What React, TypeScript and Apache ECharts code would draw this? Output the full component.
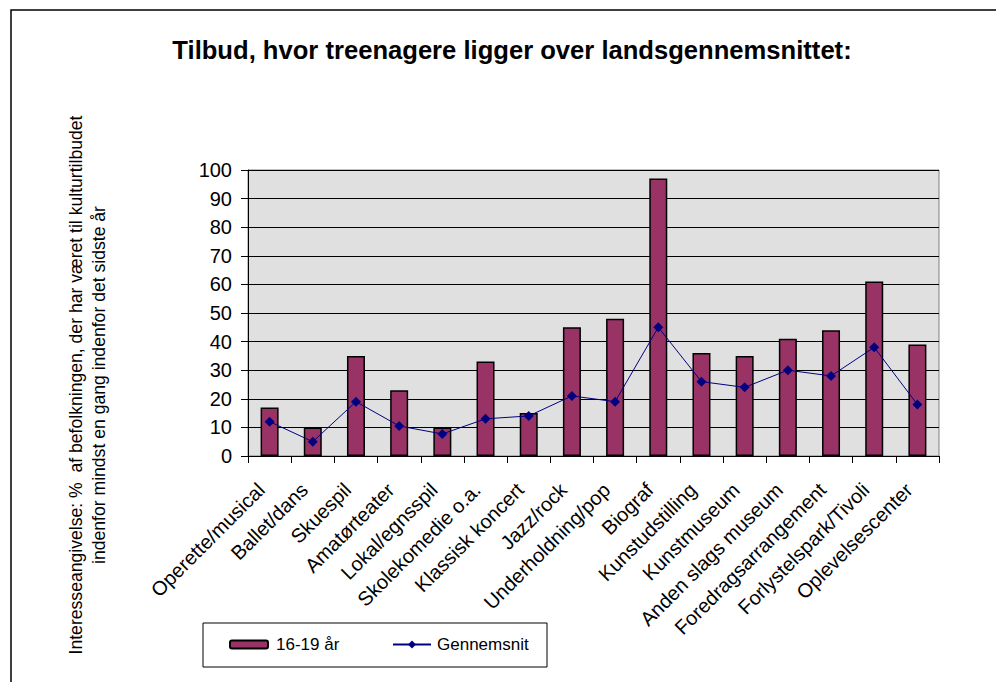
import React, { useEffect, useRef } from "react";
import * as echarts from "echarts";

const categories = [
  "Operette/musical",
  "Ballet/dans",
  "Skuespil",
  "Amatørteater",
  "Lokal/egnsspil",
  "Skolekomedie o.a.",
  "Klassisk koncert",
  "Jazz/rock",
  "Underholdning/pop",
  "Biograf",
  "Kunstudstilling",
  "Kunstmuseum",
  "Anden slags museum",
  "Foredragsarrangement",
  "Forlystelspark/Tivoli",
  "Oplevelsescenter",
];
const teens = [17, 10, 35, 23, 10, 33, 15, 45, 48, 97, 36, 35, 41, 44, 61, 39];
const average = [12, 5, 19, 10.5, 7.7, 13, 14, 21, 19, 45, 26, 24, 30, 28, 38, 18];
const yTicks = { min: 0, max: 100, interval: 10 };

const FONT = "'Liberation Sans', Arial, sans-serif";

export default function App() {
  const ref = useRef<HTMLDivElement>(null);
  useEffect(() => {
    if (!ref.current) return;
    const chart = echarts.init(ref.current, null, { renderer: "svg" });
    chart.setOption({
      animation: false,
      backgroundColor: "#ffffff",
      textStyle: { fontFamily: FONT, color: "#000" },
      title: {
        text: "Tilbud, hvor treenagere ligger over landsgennemsnittet:",
        left: 507,
        textAlign: "center",
        top: 32,
        textStyle: { fontSize: 25.6, fontWeight: "bold", color: "#000", fontFamily: FONT },
      },
      graphic: [
        {
          type: "rect",
          shape: { x: 11, y: 10, width: 1000, height: 700 },
          style: { fill: "none", stroke: "#000", lineWidth: 1.5 },
          silent: true,
        },
        {
          type: "text",
          x: 87,
          y: 385,
          rotation: Math.PI / 2,
          style: {
            text:
              "Interesseangivelse: %  af befolkningen, der har været til kulturtilbudet\nindenfor mindst en gang indenfor det sidste år",
            fontSize: 17.6,
            fontFamily: FONT,
            fill: "#000",
            align: "center",
            verticalAlign: "middle",
            lineHeight: 23,
          },
        },
        {
          type: "rect",
          shape: { x: 203, y: 623, width: 344, height: 44 },
          style: { fill: "#fff", stroke: "#000", lineWidth: 1 },
          z: -1,
          silent: true,
        },
      ],
      legend: [
        {
          data: ["16-19 år"],
          left: 229,
          top: 636,
          padding: 0,
          itemWidth: 38,
          itemHeight: 8,
          textStyle: { fontSize: 17, fontFamily: FONT, color: "#000", padding: [0, 0, 0, 3] },
        },
        {
          data: ["Gennemsnit"],
          left: 392,
          top: 636,
          padding: 0,
          itemWidth: 38,
          itemHeight: 10,
          textStyle: { fontSize: 17, fontFamily: FONT, color: "#000", padding: [0, 0, 0, 1] },
        },
      ],
      grid: {
        left: 248,
        top: 170,
        width: 691,
        height: 286,
        show: true,
        backgroundColor: "#E0E0E0",
        borderColor: "#808080",
        borderWidth: 1,
      },
      xAxis: {
        type: "category",
        data: categories,
        boundaryGap: true,
        axisLine: { lineStyle: { color: "#000", width: 1 } },
        axisTick: { show: true, length: 7, lineStyle: { color: "#000" } },
        axisLabel: {
          rotate: 45,
          interval: 0,
          fontSize: 20,
          fontFamily: FONT,
          color: "#000",
          margin: 22,
          padding: [0, 12, 0, 0],
        },
      },
      yAxis: {
        type: "value",
        min: yTicks.min,
        max: yTicks.max,
        interval: yTicks.interval,
        axisLine: { show: true, lineStyle: { color: "#000", width: 1 } },
        axisTick: { show: true, length: 7, lineStyle: { color: "#000" } },
        axisLabel: { fontSize: 20, fontFamily: FONT, color: "#000", margin: 16 },
        splitLine: { show: true, lineStyle: { color: "#000", width: 1 } },
      },
      series: [
        {
          name: "16-19 år",
          type: "bar",
          data: teens,
          barWidth: 18,
          itemStyle: { color: "#993366", borderColor: "#000", borderWidth: 1.5 },
        },
        {
          name: "Gennemsnit",
          type: "line",
          data: average,
          symbol: "diamond",
          symbolSize: 10,
          lineStyle: { color: "#000080", width: 1 },
          itemStyle: { color: "#000080" },
        },
      ],
    });
    return () => chart.dispose();
  }, []);
  return (
    <div
      ref={ref}
      style={{ position: "fixed", left: 0, top: 0, width: 996, height: 682 }}
    />
  );
}
